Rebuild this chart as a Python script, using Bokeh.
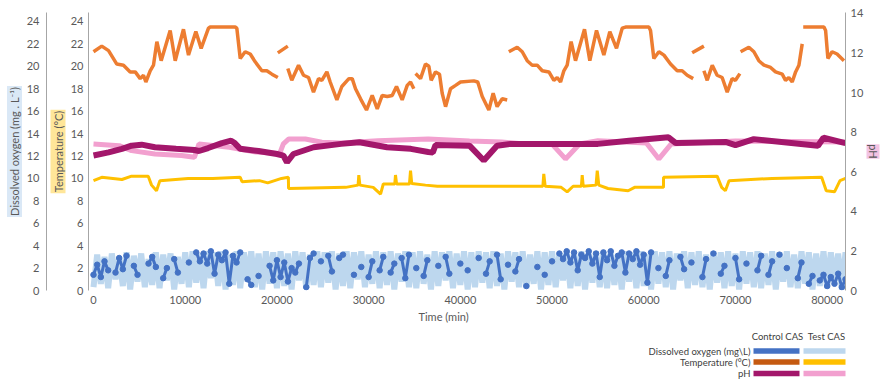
import math
from bokeh.plotting import figure
from bokeh.models import LinearAxis, Range1d, FixedTicker, Title
from bokeh.layouts import column
from bokeh.embed import file_html
from bokeh.resources import INLINE
from bokeh.core.properties import value

NaN = float("nan")

# ---------------- data ----------------
x_ticks = [0, 10000, 20000, 30000, 40000, 50000, 60000, 70000, 80000]
left_ticks = [0, 2, 4, 6, 8, 10, 12, 14, 16, 18, 20, 22, 24]
ph_ticks = [0, 2, 4, 6, 8, 10, 12, 14]

# Temperature, Control CAS (orange), degC
temp_control_time = [0, 900, 1640, 2540, 3270, 4000, 4550, 5090, 5450, 5710, 6180, 6540, 6910, 7380,
                     8360, 8910, 9810, 10360, 11160, 11740, 12540, 12720, 15450, 15630, 16000, 16540,
                     17090, 17630, 18360, 18900, 19450, 20100, 20150,
                     20100, 21190, 21200,
                     21190, 21620, 22360, 22900, 23450, 23990, 24540, 24900, 25450, 25810, 26540, 27080,
                     27850, 28210, 28570, 29120, 29770, 30390, 30940, 31480, 32030, 32570, 33040, 33660,
                     34210, 34570, 34930, 35000,
                     35120, 35660, 36200, 36570, 36820, 37300, 37730, 38020, 38390, 38930, 39480, 40020,
                     41470, 41900, 42390, 43110, 43580, 44010, 44570, 45110, 45200,
                     45290, 46200, 46750, 47290, 47840, 48380, 48930, 49660, 50200, 50560, 50930, 51290,
                     51650, 52080, 52560, 53540, 54120, 54850, 55650, 56300, 57030, 57650, 58020, 60560,
                     60740, 61100, 61650, 62200, 62920, 63650, 64190, 64740, 65390, 65400,
                     65280, 66560, 66600,
                     66560, 66920, 67470, 68000, 68550, 69100, 69640, 70000, 70480, 70500,
                     70560, 71460, 72010, 72550, 73110, 73830, 74370, 75100, 75460, 75820, 76190, 76560,
                     76920, 77280, 77300,
                     77390, 79650, 79830, 80080, 80540, 81080, 81830]
temp_control = [21.3, 21.8, 21.4, 20.2, 20.1, 19.5, 19.5, 18.9, 19.2, 18.6, 19.6, 20.1, 22.2, 20.5,
                23.2, 20.5, 23.3, 21.0, 23.1, 21.6, 23.4, 23.5, 23.5, 23.4, 20.7, 21.3,
                21.1, 20.4, 19.6, 19.6, 19.3, 19.0, NaN,
                21.2, 21.8, NaN,
                19.8, 18.75, 20.1, 19.2, 19.0, 17.7, 18.9, 18.75, 19.5, 18.6, 17.0, 18.2,
                18.9, 18.9, 18.0, 17.1, 16.1, 17.4, 16.2, 17.4, 17.3, 17.4, 18.2, 17.0,
                18.3, 18.6, 18.0, NaN,
                19.35, 18.9, 20.2, 20.0, 18.75, 19.5, 19.3, 17.6, 16.4, 18.0, 18.3, 18.6,
                18.7, 18.6, 17.3, 16.1, 17.6, 16.4, 17.1, 17.0, NaN,
                21.3, 21.7, 21.3, 20.5, 20.1, 20.1, 19.6, 19.5, 18.75, 19.0, 18.6, 19.6,
                20.1, 22.2, 20.5, 23.3, 20.5, 23.2, 21.0, 23.1, 21.6, 23.4, 23.5, 23.5,
                23.2, 20.7, 21.3, 21.0, 20.2, 19.6, 19.6, 19.2, 18.9, NaN,
                21.2, 21.8, NaN,
                19.6, 18.75, 20.1, 19.2, 19.0, 17.7, 18.9, 18.75, 19.35, NaN,
                21.3, 21.7, 21.3, 20.5, 20.1, 19.9, 19.5, 19.3, 18.75, 19.0, 18.6, 19.5,
                20.1, 22.0, NaN,
                23.5, 23.5, 23.2, 20.7, 21.3, 21.1, 20.5]

# Temperature, Test CAS (yellow), degC
temp_test_time = [0, 900, 3100, 4150, 5970, 6330, 6870, 7240, 10320, 13000, 16000, 16200, 18100, 19000,
                  20500, 21250, 21270, 27500, 28850, 28930, 29050, 30500, 31300, 31600, 32850, 32930,
                  33050, 34450, 34570, 34700, 36200, 37500, 49000, 49100, 49250, 51000, 51650, 52300,
                  53200, 53290, 53400, 54800, 54930, 55100, 56100, 58300, 59000, 61500, 62150, 62160,
                  68000, 68500, 68900, 69300, 74000, 79400, 79900, 80800, 81400, 82000]
temp_test = [9.8, 10.1, 9.9, 10.2, 10.2, 9.4, 8.9, 9.8, 10.0, 10.0, 10.1, 9.7, 9.8, 9.6,
             10.0, 10.1, 9.1, 9.2, 9.4, 10.3, 9.4, 9.2, 8.6, 9.5, 9.5, 10.3,
             9.5, 9.5, 10.7, 9.55, 9.4, 9.3, 9.3, 10.4, 9.3, 9.2, 8.8, 9.3,
             9.3, 10.3, 9.3, 9.4, 10.7, 9.4, 9.1, 8.9, 9.2, 9.2, 9.2, 10.1,
             10.2, 9.2, 8.9, 9.8, 10.0, 10.1, 8.9, 8.8, 9.8, 10.0]

# pH, Control CAS (dark magenta)
ph_control_time = [0, 1640, 3100, 4150, 5250, 6700, 9000, 11000, 11500, 12500, 14000, 15000, 15400,
                   16000, 18000, 20000, 20700, 21100, 21800, 24000, 27000, 29000, 32000, 34600, 36500,
                   37000, 37300, 41000, 42560, 44000, 45500, 55000, 58400, 62700, 63500, 69000, 70000,
                   72000, 79000, 79600, 82000]
ph_control = [6.82, 6.98, 7.16, 7.32, 7.37, 7.24, 7.16, 7.1, 7.05, 7.2, 7.45, 7.57, 7.45,
              7.16, 7.05, 6.9, 6.82, 6.48, 6.9, 7.24, 7.41, 7.49, 7.24, 7.16, 7.0,
              6.98, 7.35, 7.32, 6.57, 7.32, 7.41, 7.41, 7.57, 7.74, 7.45, 7.5, 7.35,
              7.65, 7.32, 7.72, 7.45]

# pH, Test CAS (pink)
ph_test_time = [0, 2800, 4150, 6700, 9600, 11000, 11500, 14800, 17700, 20300, 20700, 21300, 23100,
                24900, 27000, 31000, 36500, 41000, 44500, 47000, 50000, 51470, 53000, 55000, 60300,
                61650, 63000, 70000, 82000]
ph_test = [7.41, 7.32, 7.07, 6.9, 6.82, 6.73, 7.4, 7.24, 7.0, 6.92, 7.41, 7.66, 7.66,
           7.49, 7.45, 7.57, 7.66, 7.55, 7.5, 7.41, 7.4, 6.65, 7.4, 7.57, 7.45,
           6.65, 7.41, 7.55, 7.5]

# Dissolved oxygen (mg/L), sampled every 400 min
do_test = [0.3, 3.2, 0.6, 3.0, 0.2, 3.3, 1.0, 2.9, 0.4, 3.4, 0.1, 3.1, 0.8, 3.3, 0.3, 2.8, 0.5, 3.4, 0.2, 3.2, 0.9, 3.3, 0.1, 3.0, 0.6, 3.4,
           0.3, 3.5, 0.7, 3.3, 0.2, 3.5, 1.1, 3.4, 0.4, 3.5, 0.1, 3.2, 0.5, 3.5, 0.2, 3.4, 0.8, 3.5, 0.3, 3.3, 0.1, 3.5, 0.6, 3.4, 0.2, 3.5,
           0.4, 3.3, 0.1, 3.5, 0.9, 3.4, 0.2, 3.2, 0.5, 3.5, 0.3, 3.4, 0.7, 3.5, 0.1, 3.3, 0.4, 3.5, 0.2, 3.4, 1.0, 3.5, 0.3, 3.2, 0.6, 3.5,
           0.2, 3.4, 0.5, 3.5, 0.1, 3.3, 0.8, 3.5, 0.3, 3.4, 0.2, 3.5, 0.6, 3.2, 0.1, 3.5, 0.4, 3.4, 0.9, 3.5, 0.2, 3.3, 0.5, 3.5, 0.1, 3.4,
           0.3, 3.5, 0.7, 3.4, 0.2, 3.5, 0.4, 3.3, 0.1, 3.5, 0.8, 3.4, 0.3, 3.5, 0.2, 3.2, 0.6, 3.5, 0.1, 3.4, 0.5, 3.5, 0.3, 3.3, 0.9, 3.5,
           0.2, 3.4, 0.4, 3.5, 0.1, 3.3, 0.7, 3.5, 0.3, 3.4, 0.2, 3.5, 0.5, 3.3, 0.1, 3.5, 0.8, 3.4, 0.2, 3.5, 0.4, 3.2, 0.1, 3.5, 0.6, 3.4,
           0.3, 3.5, 0.1, 3.3, 0.9, 3.5, 0.2, 3.4, 0.5, 3.5, 0.3, 3.2, 0.1, 3.5, 0.7, 3.4, 0.2, 3.5, 0.4, 3.3, 0.1, 3.5, 0.6, 3.4, 0.3, 3.5,
           0.2, 3.3, 0.5, 3.5, 0.1, 3.4, 0.8, 3.5, 0.3, 3.2, 0.2, 3.5, 0.6, 3.4, 0.1, 3.3, 0.4, 3.5, 0.2, 3.4, 0.7, 3.3, 0.1, 3.4, 0.5]
do_control = [1.4, 2.3, 1.2, 2.6, 1.8, NaN,
              1.6, 2.9, 1.9, 3.1, NaN, 2.2, 1.4, NaN, NaN,
              2.4, 3.0, 2.1, NaN, 1.1, 2.0,
              NaN, 2.8, 1.6, NaN, NaN, 2.5, NaN,
              3.4, 2.6, 3.3, 2.4, 3.5, 1.5, 3.2, 2.7, 3.4, 0.6, 3.1, 2.5, 3.4,
              NaN, 1.0, 0.5, NaN, 1.3, NaN, NaN,
              2.2, 0.9, 2.7, 1.2, 2.5, 0.8, 2.0, 1.6, 2.4, NaN, 0.3,
              2.9, 3.3, NaN, 2.6, NaN, 3.1,
              1.7, NaN, 2.9, 3.2, NaN, NaN, 1.4, NaN,
              2.1, NaN, 1.2, 2.6, NaN, 1.8, 3.0, NaN,
              1.6, 2.4, NaN, 2.9, 1.1, 3.2, NaN, 2.0, NaN, 1.3, 2.7, NaN,
              NaN, 2.2, NaN, 3.0, 1.5,
              NaN, NaN, 2.4, NaN, 1.8, NaN, NaN, 2.9, NaN,
              1.5, 2.6, NaN, 3.2, 1.0, NaN,
              2.3, NaN, 1.7, 2.8, NaN, 0.4,
              NaN, NaN, 2.1, NaN, 1.4, NaN, 2.6, NaN,
              3.3, 2.8, 3.5, 2.5, 3.4, 1.8, 3.2, 2.9, 3.5, 2.4, 3.3, 1.2, 3.4, 2.7, 3.5, 2.2, 3.1, 3.4, 1.6, 3.3,
              2.8, 3.5, 2.3, 3.2, 0.7, 3.4,
              NaN, 2.0, NaN, 1.3, 2.7, NaN, NaN, 3.0,
              1.9, NaN, 2.5, NaN, NaN, 1.2, 2.8, NaN, 3.3, NaN,
              1.5, 2.2, NaN, NaN, 2.9, 1.0, NaN, 2.4, NaN, NaN,
              1.8, 3.1, NaN, 1.4, 2.6, NaN, 3.2, NaN, 2.0, NaN,
              NaN, 1.1, 2.5, NaN, 0.6, 1.3, NaN, 0.9,
              1.4, 0.4, 1.2, 0.6, 1.5, 0.3, 1.0, 0.5]
do_test_time = [400 * i for i in range(len(do_test))]
do_control_time = [400 * i for i in range(len(do_control))]

legend_rows = ["Dissolved oxygen (mg\\L)", "Temperature (°C)", "pH"]
legend_cols = ["Control CAS", "Test CAS"]
control_colors = ["#4472C4", "#C55A11", "#A3176B"]
test_colors = ["#BDD7EE", "#FFC000", "#F2A0CF"]

# ---------------- styling ----------------
FONT = "Lato"
TXT = "#595959"
AXC = "#a6a6a6"

p = figure(width=881, height=328, output_backend="svg", toolbar_location=None,
           x_range=Range1d(-545, 82000), y_range=Range1d(0, 24.8),
           min_border_left=88, min_border_right=36, min_border_top=12, min_border_bottom=38)
p.extra_y_ranges = {"ph": Range1d(0, 14.05)}
p.grid.visible = False
p.outline_line_color = None
p.background_fill_color = "white"
p.border_fill_color = "white"

# DO (left axes units)
p.line(do_test_time, do_test, line_color="#BDD7EE", line_width=6)
p.line(do_control_time, do_control, line_color="#4472C4", line_width=3)
p.scatter(do_control_time, do_control, size=5.5, color="#4472C4")

# temperature
p.line(temp_test_time, temp_test, line_color="#FFC000", line_width=3)
p.line(temp_control_time, temp_control, line_color="#ED7D31", line_width=3.5)

# pH
p.line(ph_test_time, ph_test, line_color="#F2A0CF", line_width=5, y_range_name="ph")
p.line(ph_control_time, ph_control, line_color="#A3176B", line_width=6, y_range_name="ph")


def style_axis(ax):
    ax.major_label_text_font = FONT
    ax.major_label_text_font_size = "11px"
    ax.major_label_text_color = TXT
    ax.major_tick_line_color = None
    ax.minor_tick_line_color = None
    ax.major_tick_out = 0
    ax.major_tick_in = 0
    ax.axis_line_color = AXC
    ax.axis_line_width = 1


def side_title(text, bg, standoff, pad=1):
    t = Title(text=text, align="center", text_font=FONT, text_font_size="11px",
              text_color=TXT, text_font_style="normal", background_fill_color=bg,
              standoff=standoff)
    try:
        t.padding = pad
    except Exception:
        pass
    return t


# x axis
xa = p.xaxis[0]
style_axis(xa)
xa.ticker = FixedTicker(ticks=x_ticks)
xa.axis_line_color = None
xa.major_label_standoff = 5
p.add_layout(Title(text="Time (min)", align="left", offset=330, text_font=FONT,
                   text_font_size="11px", text_color=TXT, text_font_style="normal",
                   standoff=2), "below")

# inner left axis: temperature
ta = p.yaxis[0]
style_axis(ta)
ta.ticker = FixedTicker(ticks=left_ticks)
ta.major_label_standoff = 5
p.add_layout(side_title("Temperature (°C)", "#FFE699", 4), "left")

# outer left axis: dissolved oxygen
da = LinearAxis(ticker=FixedTicker(ticks=left_ticks))
style_axis(da)
da.major_label_standoff = 7
p.add_layout(da, "left")
p.add_layout(side_title("Dissolved oxygen (mg . L⁻¹)", "#DAE8F6", 3), "left")

# right axis: pH
pa = LinearAxis(y_range_name="ph", ticker=FixedTicker(ticks=ph_ticks))
style_axis(pa)
pa.major_label_standoff = 5
p.add_layout(pa, "right")
p.add_layout(side_title("pH", "#F3C3E3", 0, 0), "right")

# ---------------- legend table ----------------
# (its frame is aligned with the chart frame by the column layout, so the
#  x range is expressed in page pixels of that frame: 88 .. 845)
lg = figure(width=881, height=55, output_backend="svg", toolbar_location=None,
            x_range=Range1d(88, 845), y_range=Range1d(55, 0),
            x_axis_location=None, y_axis_location=None,
            min_border_left=88, min_border_right=36, min_border_top=0, min_border_bottom=0)
lg.grid.visible = False
lg.outline_line_color = None

row_y = [22.5, 33.5, 45]
lg.rect(x=[776] * 3, y=row_y, width=46, height=5.5, fill_color=control_colors, line_color=None)
lg.rect(x=[825.5] * 3, y=row_y, width=45, height=5.5, fill_color=test_colors, line_color=None)
lg.text(x=[750] * 3, y=row_y, text=legend_rows, text_font=value(FONT), text_font_size="9.5px",
        text_color="#404040", text_align="right", text_baseline="middle")
lg.text(x=[777, 826], y=[8, 8], text=legend_cols, text_font=value(FONT), text_font_size="9.5px",
        text_color="#404040", text_align="center", text_baseline="middle")

layout = column(p, lg, spacing=0)
open("out.html", "w").write(file_html(layout, INLINE))
